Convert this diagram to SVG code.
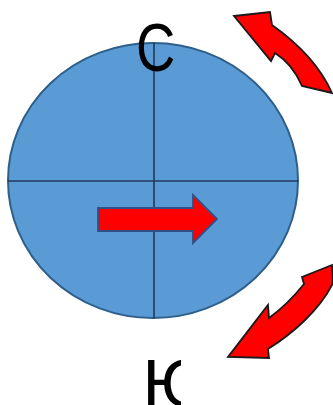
<svg xmlns="http://www.w3.org/2000/svg" width="333" height="405" viewBox="0 0 333 405">
<style>
.globe{fill:#5B9BD5;stroke:#2E5F8A;stroke-width:2}
.axis{stroke:#1F3A5C;stroke-width:1.6;fill:none}
.bigarrow{fill:#FF0000;stroke:#1A1A1A;stroke-width:1.8;stroke-linejoin:miter}
.midarrow{fill:#FF0000;stroke:#2F4F86;stroke-width:1.8}
.lbl{font-family:"Liberation Sans",Arial,sans-serif;font-size:68px;fill:#000}
</style>
<defs>
<clipPath id="clipYu"><rect x="0" y="0" width="181" height="405"/></clipPath>
</defs>
<g id="globe">
<ellipse class="globe" cx="153" cy="180.5" rx="145" ry="137.5"/>
<line class="axis" x1="154" y1="43" x2="154" y2="318"/>
<line class="axis" x1="8" y1="181" x2="298" y2="181"/>
</g>
<g id="north">
<text class="lbl" transform="translate(136,71) scale(0.8,1)">С</text>
</g>
<g id="south" clip-path="url(#clipYu)">
<text class="lbl" x="142.5" y="407">Ю</text>
</g>
<g id="connectors">
<path id="arrow-mid" class="midarrow" d="M98,208 L193,208 L193,195 L217,219 L193,243 L193,231 L98,231 Z"/>
<path id="arrow-top" class="bigarrow" d="M234,16 L270,12 L272,25 C296,42 320,66 332,93 L302,86 C296,72 286,60 275,53 L271,61 Z"/>
<path id="arrow-bottom" class="bigarrow" d="M332,265 L302,277 L304,284 C292,299 280,310 269,318 L268,305 L228,357 L269,358 L268,349 C292,334 320,310 333,283 Z"/>
</g>
</svg>
